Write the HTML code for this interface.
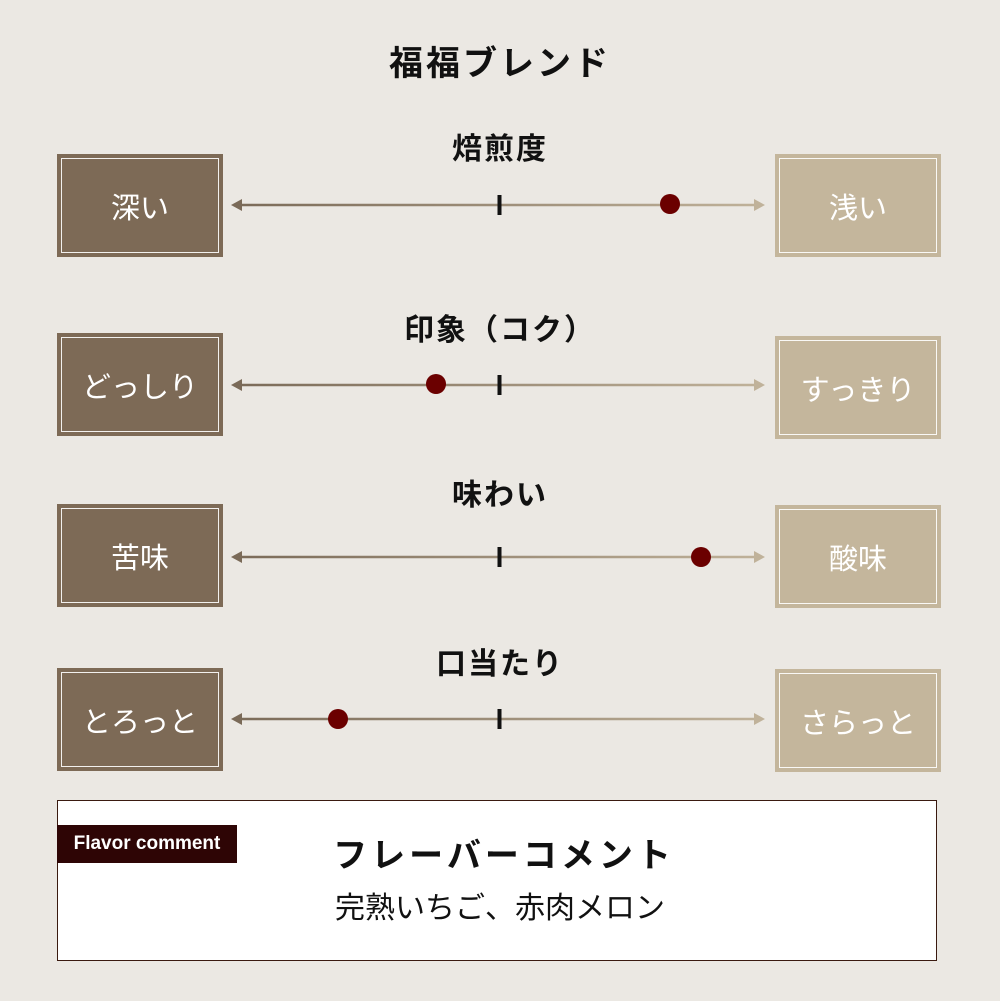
<!DOCTYPE html>
<html><head><meta charset="utf-8"><style>
*{margin:0;padding:0;box-sizing:border-box}
body{width:1000px;height:1001px;background:#ebe8e3;position:relative;overflow:hidden;font-family:"Liberation Sans","Noto Sans CJK JP",sans-serif;color:#111}
.t{position:absolute;left:0;width:1000px;text-align:center}
.box{position:absolute;width:166px;height:103px;color:#fff;font-size:29px;display:flex;align-items:center;justify-content:center}
.box::after{content:"";position:absolute;left:4px;top:4px;right:4px;bottom:4px;border:1.5px solid #fff;opacity:.9}
.d{background:#7d6a56}
.l{background:#c4b69c}
</style></head><body>
<div class="t" style="top:36px;font-size:34px;font-weight:bold;letter-spacing:3px">福福ブレンド</div>

<div class="t" style="top:124px;font-size:30px;font-weight:bold;letter-spacing:2px">焙煎度</div>
<div class="box d" style="left:57px;top:154px">深い</div>
<div class="box l" style="left:775px;top:154px">浅い</div>

<div class="t" style="top:305px;font-size:30px;font-weight:bold;letter-spacing:2px">印象（コク）</div>
<div class="box d" style="left:57px;top:333px">どっしり</div>
<div class="box l" style="left:775px;top:336px">すっきり</div>

<div class="t" style="top:470px;font-size:30px;font-weight:bold;letter-spacing:2px">味わい</div>
<div class="box d" style="left:57px;top:504px">苦味</div>
<div class="box l" style="left:775px;top:505px">酸味</div>

<div class="t" style="top:639px;font-size:30px;font-weight:bold;letter-spacing:2px">口当たり</div>
<div class="box d" style="left:57px;top:668px">とろっと</div>
<div class="box l" style="left:775px;top:669px">さらっと</div>

<svg width="1000" height="1001" style="position:absolute;left:0;top:0">
<defs><linearGradient id="g" x1="232" x2="764" gradientUnits="userSpaceOnUse"><stop offset="0" stop-color="#7a6a58"/><stop offset="1" stop-color="#c0b29a"/></linearGradient></defs>
<g id="r">
<line x1="238" y1="205" x2="758" y2="205" stroke="url(#g)" stroke-width="2.5"/>
<polygon points="231,205 242,199 242,211" fill="#7a6a58"/>
<polygon points="765,205 754,199 754,211" fill="#c0b29a"/>
<rect x="497.5" y="195" width="4" height="20" fill="#111"/>
</g>
<use href="#r" y="180"/><use href="#r" y="352"/><use href="#r" y="514"/>
<circle cx="670" cy="204" r="10" fill="#6b0000"/>
<circle cx="436" cy="384" r="10" fill="#6b0000"/>
<circle cx="701" cy="557" r="10" fill="#6b0000"/>
<circle cx="338" cy="719" r="10" fill="#6b0000"/>
</svg>

<div style="position:absolute;left:57px;top:800px;width:880px;height:161px;background:#fff;border:1px solid #3a1a10"></div>
<div style="position:absolute;left:57px;top:825px;width:180px;height:38px;background:#2e0505;color:#fff;font-size:19px;line-height:38px;text-align:center;font-weight:bold">Flavor comment</div>
<div class="t" style="top:828px;left:4px;font-size:34px;font-weight:bold;letter-spacing:4px">フレーバーコメント</div>
<div class="t" style="top:883px;font-size:30px">完熟いちご、赤肉メロン</div>
</body></html>
